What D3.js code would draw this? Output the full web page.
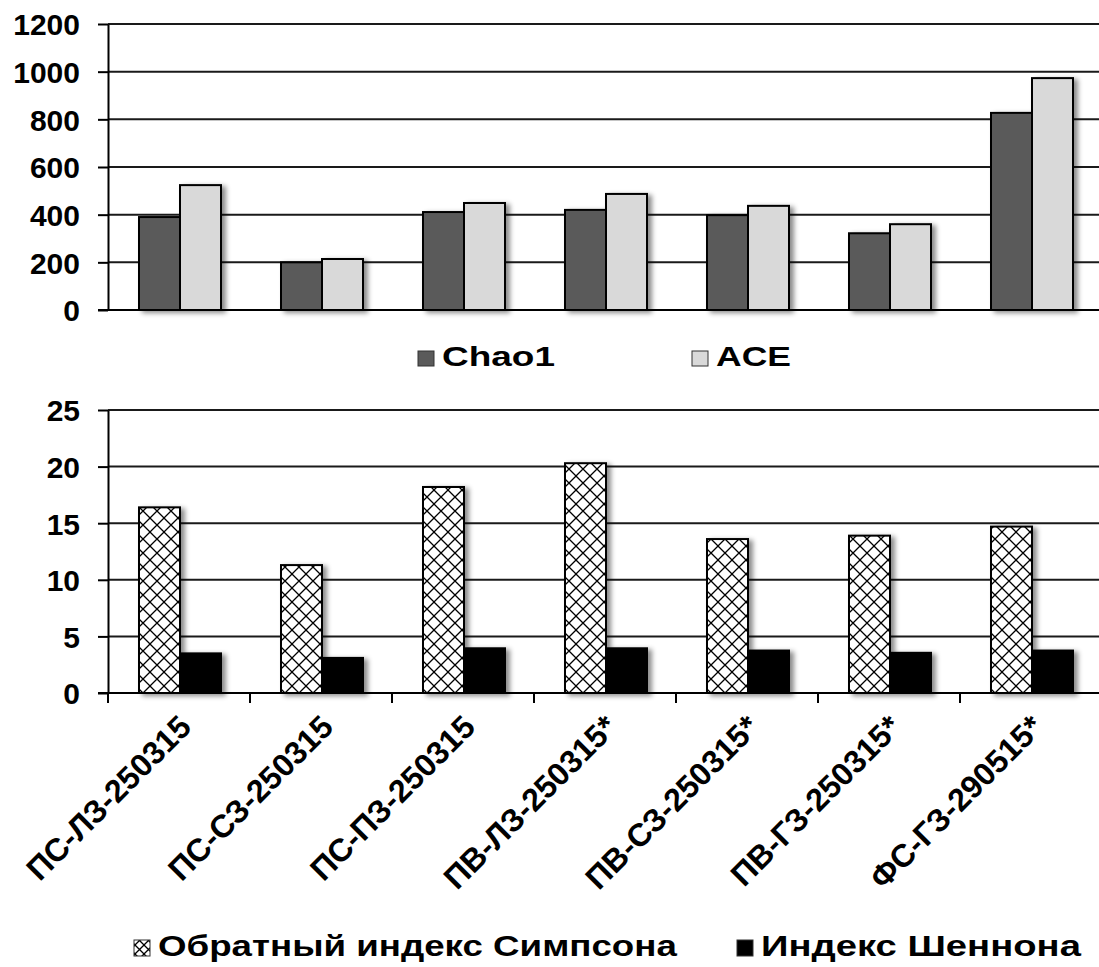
<!DOCTYPE html>
<html>
<head>
<meta charset="utf-8">
<script src="https://cdn.jsdelivr.net/npm/d3@7/dist/d3.min.js"></script>
<style>
  body { margin: 0; background: #fff; }
  svg text { font-family: "Liberation Sans", Arial, sans-serif; font-weight: bold; fill: #000; }
</style>
</head>
<body>
<div id="chart-wrapper"></div>
<script>
// data
const categories = ["ПС-ЛЗ-250315", "ПС-СЗ-250315", "ПС-ПЗ-250315", "ПВ-ЛЗ-250315*",
  "ПВ-СЗ-250315*", "ПВ-ГЗ-250315*", "ФС-ГЗ-290515*"];
const chao1 = [390, 200, 411, 420, 398, 322, 827];
const ace = [524, 214, 449, 487, 437, 360, 973];
const simpson = [16.4, 11.3, 18.2, 20.3, 13.6, 13.9, 14.7];
const shannon = [3.5, 3.1, 3.95, 3.95, 3.75, 3.55, 3.75];
const topTicks = [0, 200, 400, 600, 800, 1000, 1200];
const bottomTicks = [0, 5, 10, 15, 20, 25];
const topSeries = ["Chao1", "ACE"];
const bottomSeries = ["Обратный индекс Симпсона", "Индекс Шеннона"];

const width = 1099;
const height = 967;
const plotLeft = 108;
const plotRight = 1102;

const svg = d3
  .select("#chart-wrapper")
  .append("svg")
  .attr("width", width)
  .attr("height", height);

const defs = svg.append("defs");

// cross hatch for the Simpson bars
function makeHatch(id, size) {
  const p = defs
    .append("pattern")
    .attr("id", id)
    .attr("patternUnits", "userSpaceOnUse")
    .attr("width", size)
    .attr("height", size);
  p.append("rect").attr("width", size).attr("height", size).attr("fill", "#fff");
  p.append("path")
    .attr("d", `M0,0L${size},${size}M${size},0L0,${size}`)
    .attr("stroke", "#000")
    .attr("stroke-width", 1.3);
}
makeHatch("hatch", 14);
makeHatch("hatch-small", 9);

defs
  .append("filter")
  .attr("id", "shadow")
  .attr("x", "-30%")
  .attr("y", "-10%")
  .attr("width", "160%")
  .attr("height", "130%")
  .append("feDropShadow")
  .attr("dx", 4)
  .attr("dy", 2)
  .attr("stdDeviation", 2.5)
  .attr("flood-color", "#000")
  .attr("flood-opacity", 0.45);

// shared x scales
const xScale = d3.scaleBand().domain(categories).range([plotLeft, plotRight]);
const xInner = d3.scaleBand().domain([0, 1]).range([31, 113]);

function drawPanel(yScale, ticks, seriesA, seriesB, fills) {
  const g = svg.append("g");

  // gridlines
  g.append("g")
    .selectAll("line")
    .data(ticks.filter((t) => t > 0))
    .join("line")
    .attr("x1", plotLeft)
    .attr("x2", plotRight)
    .attr("y1", (d) => yScale(d))
    .attr("y2", (d) => yScale(d))
    .attr("stroke", "#1a1a1a")
    .attr("stroke-width", 2);

  // bars
  const groups = g
    .append("g")
    .selectAll("g")
    .data(categories.map((c, i) => ({ c, vals: [seriesA[i], seriesB[i]] })))
    .join("g")
    .attr("transform", (d) => `translate(${xScale(d.c)},0)`)
    .attr("filter", "url(#shadow)");

  groups
    .selectAll("rect")
    .data((d) => d.vals)
    .join("rect")
    .attr("x", (d, i) => xInner(i))
    .attr("width", xInner.bandwidth())
    .attr("y", (d) => yScale(d))
    .attr("height", (d) => yScale(0) - yScale(d))
    .attr("fill", (d, i) => fills[i])
    .attr("stroke", "#000")
    .attr("stroke-width", 2);

  // y axis
  const yAxis = g
    .append("g")
    .attr("transform", `translate(${plotLeft},0)`)
    .call(
      d3.axisLeft(yScale)
        .tickValues(ticks)
        .tickFormat(d3.format("d"))
        .tickSize(10)
        .tickSizeOuter(0)
        .tickPadding(18)
    );
  yAxis.select(".domain").attr("stroke", "#000").attr("stroke-width", 2);
  yAxis.selectAll(".tick line").attr("stroke", "#000").attr("stroke-width", 2);
  yAxis.selectAll(".tick text").style("font-size", "30px").attr("dy", "0.36em");

  // x axis line
  g.append("line")
    .attr("x1", plotLeft - 10)
    .attr("x2", plotRight)
    .attr("y1", yScale(0))
    .attr("y2", yScale(0))
    .attr("stroke", "#000")
    .attr("stroke-width", 2);

  return g;
}

// top panel: Chao1 / ACE
const yTop = d3.scaleLinear().domain([0, 1200]).range([310, 24]);
drawPanel(yTop, topTicks, chao1, ace, ["#5a5a5a", "#d9d9d9"]);

// bottom panel: Simpson / Shannon
const yBottom = d3.scaleLinear().domain([0, 25]).range([693, 410]);
const bottom = drawPanel(yBottom, bottomTicks, simpson, shannon, ["url(#hatch)", "#000"]);

// category ticks under the bottom panel
bottom
  .append("g")
  .selectAll("line")
  .data(categories)
  .join("line")
  .attr("x1", (d) => xScale(d))
  .attr("x2", (d) => xScale(d))
  .attr("y1", yBottom(0))
  .attr("y2", yBottom(0) + 10)
  .attr("stroke", "#000")
  .attr("stroke-width", 2);

// rotated category labels
bottom
  .append("g")
  .selectAll("text")
  .data(categories)
  .join("text")
  .attr("text-anchor", "end")
  .attr("transform", (d) => {
    const x = xScale(d) + xScale.bandwidth() / 2 + 14;
    const y = yBottom(0) + 36;
    return `translate(${x},${y}) rotate(-45)`;
  })
  .style("font-size", "32px")
  .text((d) => d);

// legends: text stretched sideways to the width seen in the picture
function legendItem(x, y, fill, label, textWidth, boxW, boxH, fontSize) {
  svg.append("rect")
    .attr("x", x)
    .attr("y", y - boxH)
    .attr("width", boxW)
    .attr("height", boxH)
    .attr("fill", fill)
    .attr("stroke", "#333")
    .attr("stroke-width", 1);
  const t = svg.append("text")
    .style("font-size", fontSize + "px")
    .text(label);
  const natural = t.node().getComputedTextLength();
  const tx = x + boxW + 8;
  t.attr("transform", `translate(${tx},${y}) scale(${textWidth / natural},1)`);
}

legendItem(418, 366, "#5a5a5a", topSeries[0], 113, 16, 15, 28);
legendItem(692, 366, "#d9d9d9", topSeries[1], 75, 16, 15, 28);
legendItem(134, 956, "url(#hatch-small)", bottomSeries[0], 519, 16, 16, 29);
legendItem(737, 956, "#000", bottomSeries[1], 320, 16, 16, 29);
</script>
</body>
</html>
